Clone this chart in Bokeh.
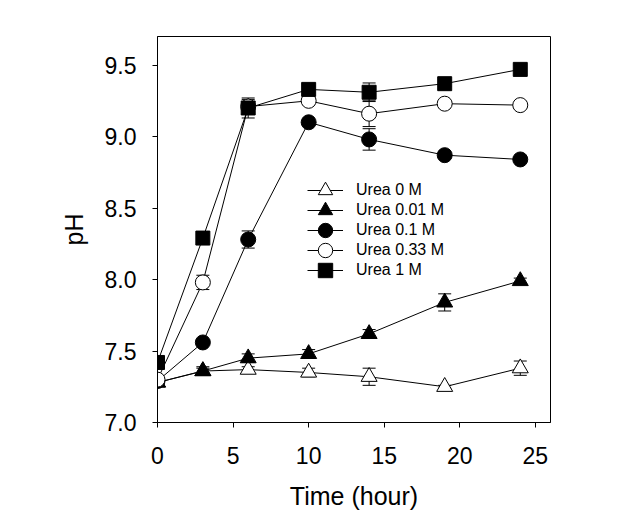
from bokeh.plotting import figure
from bokeh.models import Range1d, FixedTicker, Whisker, TeeHead, ColumnDataSource, Legend, LegendItem
from bokeh.embed import file_html
from bokeh.resources import INLINE

# ---- data ----
time_h = [0, 3, 6, 10, 14, 19, 24]
labels = ["Urea 0 M", "Urea 0.01 M", "Urea 0.1 M", "Urea 0.33 M", "Urea 1 M"]
ph_0 = [7.28, 7.36, 7.37, 7.35, 7.32, 7.25, 7.38]
err_0 = [0.02, 0.02, 0.02, 0.03, 0.06, 0.01, 0.05]
ph_001 = [7.28, 7.36, 7.45, 7.48, 7.62, 7.84, 7.99]
err_001 = [0.02, 0.03, 0.03, 0.03, 0.03, 0.06, 0.02]
ph_01 = [7.29, 7.56, 8.28, 9.10, 8.98, 8.87, 8.84]
err_01 = [0.02, 0.02, 0.06, 0.02, 0.075, 0.02, 0.02]
ph_033 = [7.30, 7.98, 9.21, 9.25, 9.16, 9.23, 9.22]
err_033 = [0.02, 0.05, 0.05, 0.02, 0.09, 0.02, 0.02]
ph_1 = [7.42, 8.29, 9.20, 9.33, 9.31, 9.37, 9.47]
err_1 = [0.02, 0.02, 0.07, 0.02, 0.065, 0.02, 0.025]
x_ticks = [0, 5, 10, 15, 20, 25]
y_ticks = [7.0, 7.5, 8.0, 8.5, 9.0, 9.5]

series = [
    (labels[0], ph_0, err_0, "triangle", "white", 16),
    (labels[1], ph_001, err_001, "triangle", "black", 16),
    (labels[2], ph_01, err_01, "circle", "black", 15),
    (labels[3], ph_033, err_033, "circle", "white", 15),
    (labels[4], ph_1, err_1, "square", "black", 14),
]

FONT = "Liberation Sans"

p = figure(width=610, height=515, output_backend="svg", toolbar_location=None,
           x_range=Range1d(0, 26), y_range=Range1d(7.0, 9.7),
           min_border_left=157, min_border_top=36, min_border_right=60, min_border_bottom=93)
p.background_fill_color = "white"
p.border_fill_color = "white"
p.outline_line_color = "black"
p.outline_line_width = 1
p.xgrid.visible = False
p.ygrid.visible = False

for ax in (p.xaxis[0], p.yaxis[0]):
    ax.major_tick_in = 0
    ax.major_tick_out = 5
    ax.minor_tick_line_color = None
    ax.axis_line_color = "black"
    ax.major_tick_line_color = "black"
    ax.major_label_text_font = FONT
    ax.major_label_text_font_size = "23px"
    ax.major_label_text_color = "black"
    ax.axis_label_text_font = FONT
    ax.axis_label_text_font_size = "25px"
    ax.axis_label_text_font_style = "normal"
    ax.axis_label_text_color = "black"

p.xaxis.ticker = FixedTicker(ticks=x_ticks)
p.yaxis.ticker = FixedTicker(ticks=y_ticks)
p.yaxis.major_label_overrides = {v: f"{v:.1f}" for v in y_ticks}
p.xaxis.axis_label = "Time (hour)"
p.yaxis.axis_label = "pH"
p.xaxis.major_label_standoff = 19
p.yaxis.major_label_standoff = 16
p.xaxis.axis_label_standoff = 15
p.yaxis.axis_label_standoff = 14

for i, (name, ph, err, mk, fill, sz) in enumerate(series):
    lo = [v - e for v, e in zip(ph, err)]
    hi = [v + e for v, e in zip(ph, err)]
    src = ColumnDataSource(dict(x=time_h, y=ph, lo=lo, hi=hi))
    w = Whisker(base="x", lower="lo", upper="hi", source=src, line_color="black", line_width=1,
                upper_head=TeeHead(size=13, line_color="black", line_width=1),
                lower_head=TeeHead(size=13, line_color="black", line_width=1))
    p.add_layout(w)
    r1 = p.line("x", "y", source=src, line_color="black", line_width=1)
    r2 = p.scatter("x", "y", source=src, marker=mk, size=sz, fill_color=fill,
                   line_color="black", line_width=1)
    # one legend box per entry, stacked 20px apart, so markers can be large
    leg = Legend(items=[LegendItem(label=name, renderers=[r1, r2])],
                 location=(150, 214 - 20 * i), orientation="vertical")
    leg.label_text_font = FONT
    leg.label_text_font_size = "16px"
    leg.label_text_color = "black"
    leg.background_fill_alpha = 0
    leg.border_line_alpha = 0
    leg.padding = 0
    leg.margin = 0
    leg.spacing = 0
    leg.label_height = 20
    leg.glyph_height = 36
    leg.glyph_width = 36
    leg.label_standoff = 13
    p.add_layout(leg, "center")

open("out.html", "w").write(file_html(p, INLINE))
